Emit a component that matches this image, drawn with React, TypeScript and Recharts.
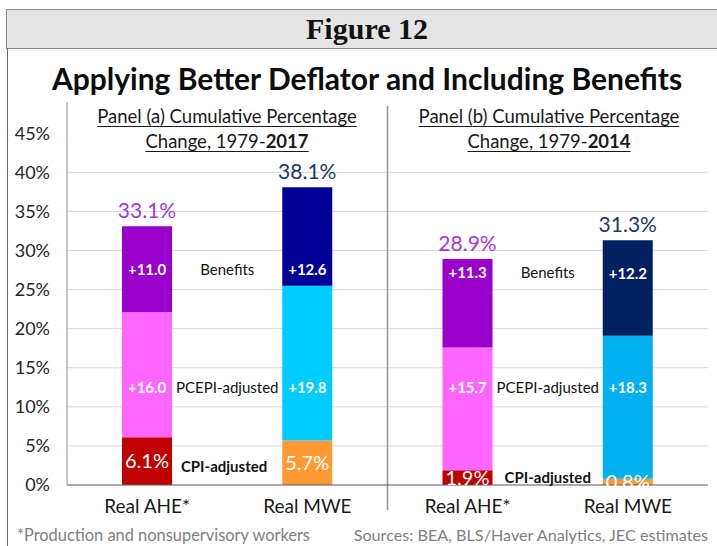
import React from "react"
import {
  ComposedChart,
  Bar,
  Scatter,
  XAxis,
  YAxis,
  CartesianGrid,
  Cell,
  LabelList,
  ReferenceLine,
} from "recharts"

// four bars, two panels
const barKeys = ["a-ahe", "a-mwe", "b-ahe", "b-mwe"]
const barNames = ["Real AHE*", "Real MWE", "Real AHE*", "Real MWE"]
const barSlots = [0.5, 1.5, 2.5, 3.5]
const cpiAdjusted = [6.1, 5.7, 1.9, 0.8]
const pcepiAdded = [16.0, 19.8, 15.7, 18.3]
const benefitsAdded = [11.0, 12.6, 11.3, 12.2]
const totals = [33.1, 38.1, 28.9, 31.3]
const yTicks = [0, 5, 10, 15, 20, 25, 30, 35, 40, 45]
const gridValues = [5, 10, 15, 20, 25, 30, 35, 40]

// text placed inside the bars (slot = bar slot, y = % level)
const innerLabels = [
  { slot: 0.5, y: 27.5, text: "+11.0" },
  { slot: 1.5, y: 27.5, text: "+12.6" },
  { slot: 2.5, y: 27.2, text: "+11.3" },
  { slot: 3.5, y: 27.0, text: "+12.2" },
  { slot: 0.5, y: 12.4, text: "+16.0" },
  { slot: 1.5, y: 12.4, text: "+19.8" },
  { slot: 2.5, y: 12.4, text: "+15.7" },
  { slot: 3.5, y: 12.4, text: "+18.3" },
]
// text between the bars
const sideLabels = [
  { slot: 1, y: 27.5, text: "Benefits" },
  { slot: 3, y: 27.2, text: "Benefits" },
  { slot: 1, y: 12.4, text: "PCEPI-adjusted" },
  { slot: 3, y: 12.4, text: "PCEPI-adjusted" },
]
const sideBoldLabels = [
  { slot: 0.98, y: 2.4, text: "CPI-adjusted" },
  { slot: 3, y: 0.9, text: "CPI-adjusted" },
]

const cpiColors = ["#C00000", "#FF9933", "#C00000", "#FF9933"]
const pcepiColors = ["#FF66FF", "#00CCFF", "#FF66FF", "#00B0F0"]
const benefitColors = ["#9900CC", "#000099", "#9900CC", "#002060"]
const totalColors = ["#A03CD6", "#203864", "#A03CD6", "#203864"]

const data = barKeys.map((k, i) => ({
  key: k,
  slot: barSlots[i],
  cpi: cpiAdjusted[i],
  pcepi: pcepiAdded[i],
  benefits: benefitsAdded[i],
  total: totals[i],
}))

const FONT = "Lato, 'Open Sans', sans-serif"

function TotalLabel(props: any) {
  const { x, y, width, index, value } = props
  return (
    <text
      x={x + width / 2}
      y={y - 8}
      textAnchor="middle"
      fontSize={21}
      fontFamily={FONT}
      fill={totalColors[index]}
    >
      {value.toFixed(1)}%
    </text>
  )
}

const noShape = () => <g />

function PanelTitle({ center, panel, year }: { center: number; panel: string; year: string }) {
  return (
    <div
      style={{
        position: "absolute",
        left: center - 160,
        width: 320,
        top: 104,
        textAlign: "center",
        fontFamily: FONT,
        fontSize: 18.5,
        lineHeight: "25px",
        color: "#1a1a1a",
        textDecoration: "underline",
        textUnderlineOffset: 3,
      }}
    >
      Panel ({panel}) Cumulative Percentage
      <br />
      Change, 1979-<b>{year}</b>
    </div>
  )
}

export default function App() {
  return (
    <div
      style={{
        position: "absolute",
        left: 0,
        top: 0,
        width: 717,
        height: 546,
        overflow: "hidden",
        background: "#fff",
        fontFamily: FONT,
      }}
    >
      <div
        style={{
          position: "absolute",
          left: 6,
          top: 9,
          width: 730,
          height: 38,
          background: "#E4E4E4",
          borderTop: "1px solid #8c8c8c",
          borderLeft: "1px solid #8c8c8c",
          borderBottom: "1px solid #8c8c8c",
        }}
      />
      <div
        style={{
          position: "absolute",
          left: 7,
          top: 48,
          width: 1,
          height: 498,
          background: "#6e6e6e",
        }}
      />
      <div
        style={{
          position: "absolute",
          left: 0,
          width: 734,
          top: 10,
          lineHeight: "37px",
          textAlign: "center",
          fontFamily: "'Liberation Serif', serif",
          fontWeight: "bold",
          fontSize: 30,
          color: "#111",
        }}
      >
        Figure 12
      </div>
      <div
        style={{
          position: "absolute",
          left: 0,
          width: 734,
          top: 59,
          lineHeight: "38px",
          textAlign: "center",
          fontWeight: "bold",
          fontSize: 30,
          color: "#0d0d0d",
        }}
      >
        Applying Better Deflator and Including Benefits
      </div>

      <div style={{ position: "absolute", left: 0, top: 0 }}>
        <ComposedChart
          width={717}
          height={546}
          data={data}
          barSize={50}
          margin={{ top: 102, right: 9, left: 0, bottom: 31 }}
        >
          <CartesianGrid
            vertical={false}
            stroke="#D9D9D9"
            horizontalValues={gridValues}
          />
          <XAxis
            dataKey="key"
            tickFormatter={(v: string) => barNames[barKeys.indexOf(v)]}
            tickLine={false}
            tickSize={0}
            tickMargin={15}
            axisLine={{ stroke: "#595959", strokeWidth: 1.2 }}
            tick={{ fontSize: 19, fill: "#1a1a1a", fontFamily: FONT }}
            interval={0}
          />
          <XAxis
            xAxisId="pos"
            dataKey="slot"
            type="number"
            domain={[0, 4]}
            allowDataOverflow
            hide
          />
          <YAxis
            domain={[0, 49]}
            ticks={yTicks}
            tickFormatter={(v: number) => `${v}%`}
            width={67}
            tickLine={false}
            tickSize={0}
            tickMargin={17}
            axisLine={{ stroke: "#8c8c8c" }}
            tick={{ fontSize: 18, fill: "#262626", fontFamily: FONT }}
          />
          <Bar dataKey="cpi" stackId="s" isAnimationActive={false}>
            {data.map((d, i) => (
              <Cell key={d.key} fill={cpiColors[i]} />
            ))}
            <LabelList
              dataKey="cpi"
              position="center"
              formatter={(v: number) => `${v.toFixed(1)}%`}
              fill="#ffffff"
              fontSize={20}
              fontFamily={FONT}
            />
          </Bar>
          <Bar dataKey="pcepi" stackId="s" isAnimationActive={false}>
            {data.map((d, i) => (
              <Cell key={d.key} fill={pcepiColors[i]} />
            ))}
          </Bar>
          <Bar dataKey="benefits" stackId="s" isAnimationActive={false}>
            {data.map((d, i) => (
              <Cell key={d.key} fill={benefitColors[i]} />
            ))}
            <LabelList dataKey="total" content={TotalLabel} />
          </Bar>
          <Scatter
            xAxisId="pos"
            data={innerLabels}
            dataKey="y"
            shape={noShape}
            isAnimationActive={false}
          >
            <LabelList
              dataKey="text"
              position="center"
              fill="#ffffff"
              fontSize={15}
              fontWeight="bold"
              fontFamily={FONT}
            />
          </Scatter>
          <Scatter
            xAxisId="pos"
            data={sideLabels}
            dataKey="y"
            shape={noShape}
            isAnimationActive={false}
          >
            <LabelList
              dataKey="text"
              position="center"
              fill="#111111"
              fontSize={15}
              fontFamily={FONT}
            />
          </Scatter>
          <Scatter
            xAxisId="pos"
            data={sideBoldLabels}
            dataKey="y"
            shape={noShape}
            isAnimationActive={false}
          >
            <LabelList
              dataKey="text"
              position="center"
              fill="#111111"
              fontSize={15}
              fontWeight="bold"
              fontFamily={FONT}
            />
          </Scatter>
          <ReferenceLine
            xAxisId="pos"
            segment={[
              { x: 2, y: -3.2 },
              { x: 2, y: 48.5 },
            ]}
            ifOverflow="visible"
            stroke="#9a9a9a"
            strokeWidth={1.6}
          />
        </ComposedChart>
      </div>

      <PanelTitle center={227} panel="a" year="2017" />
      <PanelTitle center={549} panel="b" year="2014" />

      <div
        style={{
          position: "absolute",
          left: 17,
          top: 525,
          fontSize: 16.4,
          color: "#808080",
          whiteSpace: "nowrap",
        }}
      >
        *Production and nonsupervisory workers
      </div>
      <div
        style={{
          position: "absolute",
          right: 9,
          top: 525,
          fontSize: 16.2,
          color: "#808080",
          whiteSpace: "nowrap",
        }}
      >
        Sources: BEA, BLS/Haver Analytics, JEC estimates
      </div>
    </div>
  )
}
